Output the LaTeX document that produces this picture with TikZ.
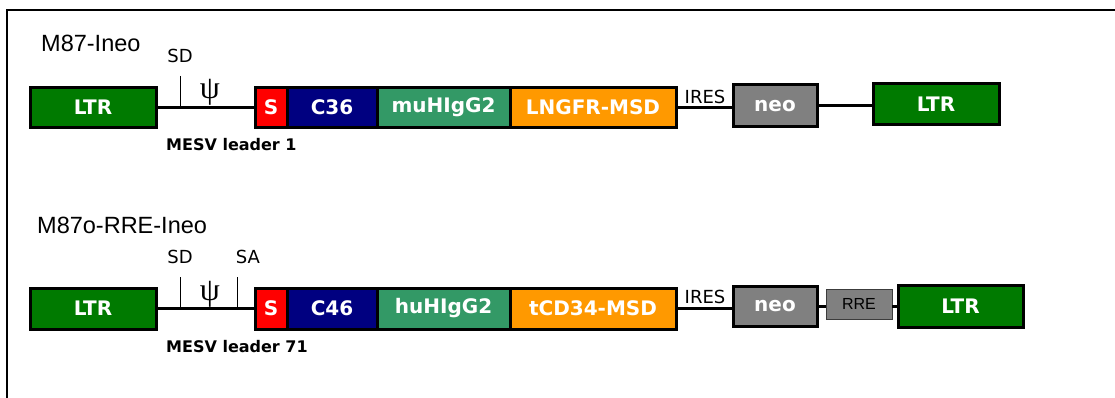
\documentclass[tikz,border=0pt]{standalone}
\usepackage{fontspec}
\newfontfamily\labelfont{DejaVu Sans}
\newfontfamily\titlefont{Liberation Sans}
\newfontfamily\greekfont{Liberation Serif}
\definecolor{ltrgreen}{RGB}{0,122,0}
\definecolor{sigred}{RGB}{255,0,0}
\definecolor{scfvnavy}{RGB}{0,0,128}
\definecolor{igggreen}{RGB}{51,153,102}
\definecolor{msdorange}{RGB}{255,153,0}
\definecolor{neogray}{RGB}{128,128,128}
\definecolor{rreedge}{RGB}{60,60,60}

\begin{document}
\begin{tikzpicture}[x=1pt,y=-1pt,
  seg/.style={draw=black, line width=3pt, inner sep=0pt, outer sep=0pt,
    text=white, font=\labelfont\bfseries\fontsize{20}{20}\selectfont,
    minimum height=40pt},
  rrebox/.style={draw=rreedge, line width=1pt, fill=neogray, inner sep=0pt,
    outer sep=0pt, minimum width=66pt, minimum height=30pt,
    font=\titlefont\fontsize{16}{16}\selectfont, text=black},
  link/.style={line width=3pt},
  tickline/.style={line width=0.8pt},
  title/.style={anchor=west, inner sep=0pt, font=\titlefont\fontsize{23.5}{24}\selectfont},
  smalllabel/.style={inner sep=0pt, font=\labelfont\fontsize{18}{18}\selectfont},
  leader/.style={anchor=west, inner sep=0pt, font=\labelfont\bfseries\fontsize{16}{16}\selectfont},
  psi/.style={inner sep=0pt, font=\greekfont\fontsize{32}{32}\selectfont}]
\useasboundingbox (0,0) rectangle (1115,398);

% frame
\draw[line width=2pt] (6.5,398) -- (6.5,10.5) -- (1115,10.5);

% ---------------- M87-Ineo ----------------
\node[title] (t1) at (41,43) {M87-Ineo};

\node[seg, fill=ltrgreen,  minimum width=126pt] (ltrA1) at (93,107.5) {LTR};
\node[seg, fill=sigred,    minimum width=32pt]  (s1)    at (271,107.5) {S};
\node[seg, fill=scfvnavy,  minimum width=90pt]  (c1)    at (332,107.5) {C36};
\node[seg, fill=igggreen,  minimum width=133pt] (igg1)  at (443.5,107.5) {muHIgG2};
\node[seg, fill=msdorange, minimum width=166pt] (msd1)  at (593,107.5) {LNGFR-MSD};
\node[seg, fill=neogray,   minimum width=84pt, minimum height=42pt] (neo1) at (775,106) {neo};
\node[seg, fill=ltrgreen,  minimum width=126pt, minimum height=41pt] (ltrB1) at (936,104.5) {LTR};

\draw[link] (ltrA1.east) -- (s1.west);
\draw[link] (msd1.east |- 0,108) coordinate (ires1a) -- (neo1.west |- 0,108) coordinate (ires1b);
\draw[link] (neo1.east) -- (ltrB1.west |- neo1.east);

\coordinate (sd1top) at (180,76);
\coordinate (sd1bot) at (180,108);
\draw[tickline] (sd1top) -- (sd1bot);
\node[smalllabel] (sd1) at (180,56) {SD};
\node[psi] (psi1) at (210,92) {ψ};
\node[smalllabel] (ires1) at (705,97) {IRES};
\node[leader] (lead1) at (166,145) {MESV leader 1};

% ---------------- M87o-RRE-Ineo ----------------
\node[title] (t2) at (37,225) {M87o-RRE-Ineo};

\node[seg, fill=ltrgreen,  minimum width=126pt, minimum height=41pt] (ltrA2) at (93,308.5) {LTR};
\node[seg, fill=sigred,    minimum width=32pt, minimum height=41pt]  (s2)    at (271,308.5) {S};
\node[seg, fill=scfvnavy,  minimum width=90pt, minimum height=41pt]  (c2)    at (332,308.5) {C46};
\node[seg, fill=igggreen,  minimum width=133pt, minimum height=41pt] (igg2)  at (443.5,308.5) {huHIgG2};
\node[seg, fill=msdorange, minimum width=166pt, minimum height=41pt] (msd2)  at (593,308.5) {tCD34-MSD};
\node[seg, fill=neogray,   minimum width=84pt] (neo2) at (775,306) {neo};
\node[rrebox] (rre2) at (859,304) {RRE};
\node[seg, fill=ltrgreen,  minimum width=125pt, minimum height=42pt] (ltrB2) at (960.5,306) {LTR};

\draw[link] (ltrA2.east) -- (s2.west);
\draw[link] (msd2.east |- 0,308) coordinate (ires2a) -- (neo2.west |- 0,308) coordinate (ires2b);
\draw[link] (neo2.east) -- (rre2.west |- neo2.east);
\draw[link] (rre2.east |- neo2.east) -- (ltrB2.west |- neo2.east);

\coordinate (sd2top) at (180,277);
\coordinate (sd2bot) at (180,309);
\coordinate (sa2top) at (237,277);
\coordinate (sa2bot) at (237,309);
\draw[tickline] (sd2top) -- (sd2bot);
\draw[tickline] (sa2top) -- (sa2bot);
\node[smalllabel] (sd2) at (180,257) {SD};
\node[smalllabel] (sa2) at (248,257) {SA};
\node[psi] (psi2) at (210,294) {ψ};
\node[smalllabel] (ires2) at (705,297) {IRES};
\node[leader] (lead2) at (166,347) {MESV leader 71};
\end{tikzpicture}
\end{document}
